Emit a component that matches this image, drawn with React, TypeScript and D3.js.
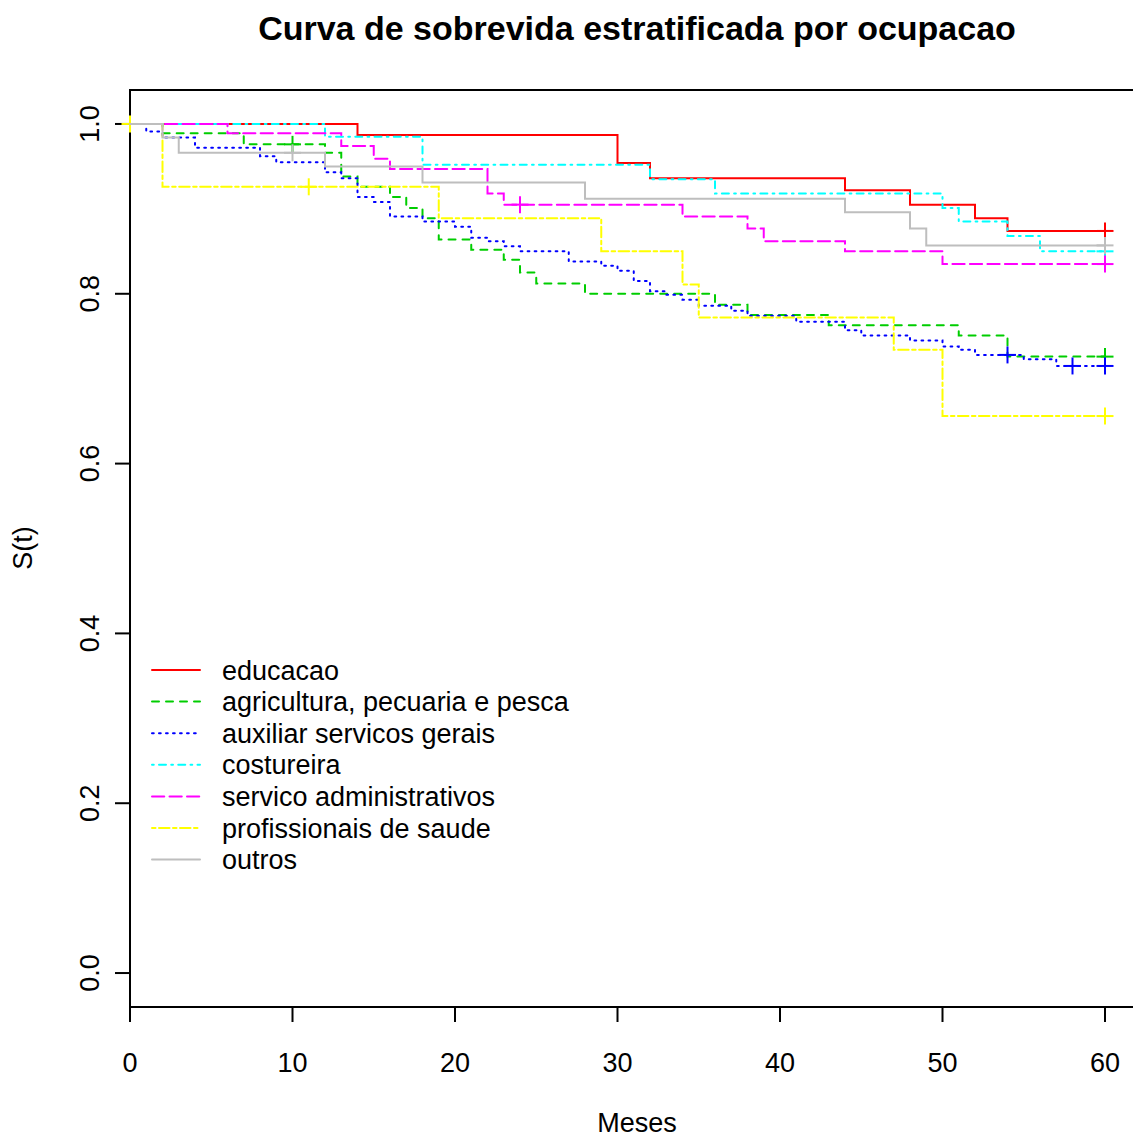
import React from "react";
import * as d3 from "d3";

// Kaplan-Meier survival curves by occupation group (months 0-60)
const xTicks = [0, 10, 20, 30, 40, 50, 60];
const yTicks = [0, 0.2, 0.4, 0.6, 0.8, 1.0];
const endTime = 60;

const groupNames = [
  "educacao",
  "agricultura, pecuaria e pesca",
  "auxiliar servicos gerais",
  "costureira",
  "servico administrativos",
  "profissionais de saude",
  "outros",
];

// event times and survival estimate after each event
const educacaoTimes = [14, 30, 32, 44, 48, 52, 54];
const educacaoSurv = [0.987, 0.954, 0.936, 0.922, 0.905, 0.889, 0.874];
const educacaoCensor = [60];

const agriculturaTimes = [2, 7, 12, 13, 14, 16, 17, 18, 19, 21, 23, 24, 25, 28, 36, 38, 43, 51, 54];
const agriculturaSurv = [0.989, 0.976, 0.966, 0.938, 0.926, 0.914, 0.901, 0.889, 0.864, 0.852, 0.840, 0.825, 0.812, 0.800, 0.787, 0.775, 0.763, 0.751, 0.726];
const agriculturaCensor = [10, 60];

const auxiliarTimes = [1, 2, 4, 8, 9, 12, 13, 14, 15, 16, 18, 20, 21, 22, 23, 24, 27, 29, 30, 31, 32, 33, 34, 35, 37, 38, 41, 44, 45, 48, 50, 51, 52, 55, 57];
const auxiliarSurv = [0.991, 0.984, 0.972, 0.962, 0.955, 0.943, 0.936, 0.914, 0.908, 0.891, 0.885, 0.879, 0.866, 0.862, 0.856, 0.850, 0.838, 0.833, 0.827, 0.815, 0.803, 0.799, 0.793, 0.786, 0.780, 0.774, 0.767, 0.757, 0.751, 0.745, 0.738, 0.734, 0.728, 0.723, 0.715];
const auxiliarCensor = [54, 58, 60];

const costureiraTimes = [12, 18, 32, 36, 50, 51, 54, 56];
const costureiraSurv = [0.985, 0.952, 0.935, 0.918, 0.901, 0.885, 0.868, 0.850];
const costureiraCensor = [60];

const servicoTimes = [6, 13, 15, 16, 22, 23, 34, 38, 39, 44, 50];
const servicoSurv = [0.989, 0.974, 0.959, 0.947, 0.918, 0.905, 0.891, 0.877, 0.862, 0.850, 0.835];
const servicoCensor = [24, 60];

const saudeTimes = [2, 19, 29, 34, 35, 47, 50];
const saudeSurv = [0.926, 0.889, 0.850, 0.811, 0.772, 0.734, 0.656];
const saudeCensor = [0, 11, 60];

const outrosTimes = [2, 3, 12, 18, 28, 44, 48, 49];
const outrosSurv = [0.984, 0.966, 0.950, 0.931, 0.912, 0.896, 0.877, 0.857];
const outrosCensor = [10, 60];

const seriesTimes = [educacaoTimes, agriculturaTimes, auxiliarTimes, costureiraTimes, servicoTimes, saudeTimes, outrosTimes];
const seriesSurv = [educacaoSurv, agriculturaSurv, auxiliarSurv, costureiraSurv, servicoSurv, saudeSurv, outrosSurv];
const seriesCensor = [educacaoCensor, agriculturaCensor, auxiliarCensor, costureiraCensor, servicoCensor, saudeCensor, outrosCensor];

const colors = ["#FF0000", "#00CD00", "#0000FF", "#00FFFF", "#FF00FF", "#FFFF00", "#BEBEBE"];
const dashes = ["none", "7,7", "1.75,5.25", "1.75,5.25,7,5.25", "12.25,5.25", "3.5,3.5,10.5,3.5", "none"];

const W = 1133;
const H = 1137;
const FONT = "'Liberation Sans', Arial, Helvetica, sans-serif";

const x = d3.scaleLinear().domain([0, 62.4]).range([130, 1144]);
const y = d3.scaleLinear().domain([-0.04, 1.04]).range([1007, 90]);

function survAt(times: number[], surv: number[], t: number) {
  let s = 1;
  for (let i = 0; i < times.length; i++) if (times[i] <= t) s = surv[i];
  return s;
}

const stepLine = d3
  .line<[number, number]>()
  .x((d) => x(d[0]))
  .y((d) => y(d[1]))
  .curve(d3.curveStepAfter);

export default function App() {
  const curves = seriesTimes.map((times, i) => {
    const pts: [number, number][] = [[0, 1]];
    times.forEach((t, j) => pts.push([t, seriesSurv[i][j]]));
    pts.push([endTime, seriesSurv[i][seriesSurv[i].length - 1]]);
    return pts;
  });

  const cross = 8.5;
  const legendY0 = 670;
  const legendStep = 31.6;

  return (
    <svg
      width={W}
      height={H}
      style={{ position: "absolute", left: 0, top: 0, background: "#fff" }}
      fontFamily={FONT}
    >
      <rect x={0} y={0} width={W} height={H} fill="#fff" />
      <text x={637} y={40} textAnchor="middle" fontSize={34} fontWeight="bold">
        Curva de sobrevida estratificada por ocupacao
      </text>

      {/* plot frame */}
      <rect x={130} y={90} width={1014} height={917} fill="none" stroke="#000" strokeWidth={2} />

      {/* x axis */}
      <line x1={x(0)} x2={x(60)} y1={1007} y2={1007} stroke="#000" strokeWidth={2} />
      {xTicks.map((t) => (
        <g key={t}>
          <line x1={x(t)} x2={x(t)} y1={1007} y2={1022} stroke="#000" strokeWidth={2} />
          <text x={x(t)} y={1072} textAnchor="middle" fontSize={27}>
            {t}
          </text>
        </g>
      ))}

      {/* y axis */}
      <line x1={130} x2={130} y1={y(0)} y2={y(1)} stroke="#000" strokeWidth={2} />
      {yTicks.map((v) => (
        <g key={v}>
          <line x1={115} x2={130} y1={y(v)} y2={y(v)} stroke="#000" strokeWidth={2} />
          <text
            transform={`translate(99,${y(v)}) rotate(-90)`}
            textAnchor="middle"
            fontSize={27}
          >
            {v.toFixed(1)}
          </text>
        </g>
      ))}

      <text x={637} y={1132} textAnchor="middle" fontSize={27}>
        Meses
      </text>
      <text transform={`translate(32,548) rotate(-90)`} textAnchor="middle" fontSize={27}>
        S(t)
      </text>

      {/* curves */}
      {curves.map((pts, i) => (
        <g key={groupNames[i]}>
          <path
            d={stepLine(pts) || ""}
            fill="none"
            stroke={colors[i]}
            strokeWidth={2}
            strokeDasharray={dashes[i]}
            strokeLinecap="round"
          />
          {seriesCensor[i].map((t, k) => {
            const cx = x(t);
            const cy = y(survAt(seriesTimes[i], seriesSurv[i], t));
            return (
              <g key={k} stroke={colors[i]} strokeWidth={2}>
                <line x1={cx - cross} x2={cx + cross} y1={cy} y2={cy} />
                <line x1={cx} x2={cx} y1={cy - cross} y2={cy + cross} />
              </g>
            );
          })}
        </g>
      ))}

      {/* legend */}
      {groupNames.map((name, i) => {
        const ly = legendY0 + i * legendStep;
        return (
          <g key={name}>
            <line
              x1={152}
              x2={200}
              y1={ly}
              y2={ly}
              stroke={colors[i]}
              strokeWidth={2}
              strokeDasharray={dashes[i]}
              strokeLinecap="round"
            />
            <text x={222} y={ly + 9.5} fontSize={27}>
              {name}
            </text>
          </g>
        );
      })}
    </svg>
  );
}
